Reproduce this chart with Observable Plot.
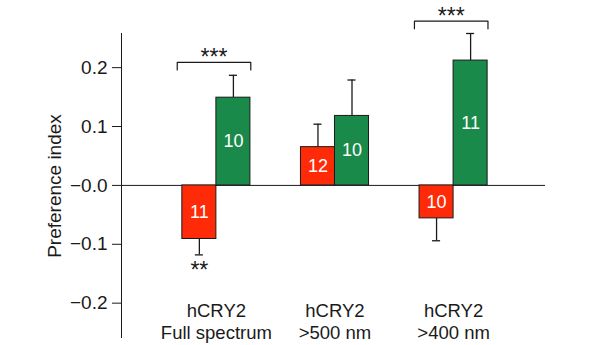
<!DOCTYPE html>
<html><head><meta charset="utf-8">
<script src="https://cdn.jsdelivr.net/npm/d3@7"></script>
<script src="https://cdn.jsdelivr.net/npm/@observablehq/plot@0.6"></script>
<style>body{margin:0;background:#fff}</style>
</head><body><div id="chart"></div>
<script>
// ---- data ----
const groups = ["hCRY2\nFull spectrum", "hCRY2\n>500 nm", "hCRY2\n>400 nm"];
const redValues = [-0.091, 0.065, -0.056];
const redErrors = [0.027, 0.039, 0.038];
const redN = [11, 12, 10];
const greenValues = [0.149, 0.118, 0.212];
const greenErrors = [0.038, 0.061, 0.046];
const greenN = [10, 10, 11];
const bracketGroups = [0, 2];
const bracketLevels = [0.209, 0.279];
const bracketLabels = ["***", "***"];
const lowStarGroups = [0];
const lowStarLabels = ["**"];
const yTicks = [-0.2, -0.1, 0, 0.1, 0.2];
const yTickLabels = ["\u22120.2", "\u22120.1", "\u22120.0", "0.1", "0.2"];

// ---- layout constants ----
const BAR_W = 0.287, CAP = 0.034, BR_L = 0.33, BR_R = 0.29, BR_TICK = 0.013;
const RED = "#ff2a08", GREEN = "#1a8a4b", INK = "#1a1a1a";
const FS = 18.5;

const bars = [];
groups.forEach((g, i) => {
  bars.push({i, x1: i - BAR_W, x2: i, y: redValues[i], err: redErrors[i], n: redN[i], fill: RED});
  bars.push({i, x1: i, x2: i + BAR_W, y: greenValues[i], err: greenErrors[i], n: greenN[i], fill: GREEN});
});
bars.forEach(b => { b.xc = (b.x1 + b.x2) / 2; b.yEnd = b.y + Math.sign(b.y) * b.err; });

const bracketPts = [];
bracketGroups.forEach((g, k) => {
  const l = bracketLevels[k];
  [[g - BR_L, l - BR_TICK], [g - BR_L, l], [g + BR_R, l], [g + BR_R, l - BR_TICK]]
    .forEach(([x, y]) => bracketPts.push({k, x, y}));
});
const bracketText = bracketGroups.map((g, k) => ({x: g - 0.02, y: bracketLevels[k] + 0.008, t: bracketLabels[k]}));
const lowStars = lowStarGroups.map((g, k) => {
  const b = bars.find(d => d.i === g && d.fill === RED);
  return {x: b.xc, y: b.yEnd - 0.027, t: lowStarLabels[k]};
});
const tickLabel = new Map(yTicks.map((t, i) => [t, yTickLabels[i]]));

const chart = Plot.plot({
  width: 600, height: 345,
  marginLeft: 121, marginRight: 55, marginTop: 33, marginBottom: 7,
  style: {fontFamily: "Liberation Sans, Arial, Helvetica, sans-serif", fontSize: FS + "px", color: INK, background: "#fff"},
  x: {domain: [-0.8, 2.775], axis: null},
  y: {domain: [-0.26, 0.258], axis: null},
  marks: [
    Plot.axisY({ticks: yTicks, tickFormat: d => tickLabel.get(d), tickSize: 9, tickPadding: 5, fontSize: 19,
      label: "Preference index", labelArrow: "none", labelAnchor: "center", labelOffset: 74, stroke: INK, fill: INK}),
    Plot.ruleX([-0.8], {stroke: INK}),
    Plot.ruleY([0], {stroke: INK}),
    Plot.ruleX(bars, {x: "xc", y1: "y", y2: "yEnd", stroke: INK, strokeWidth: 1.3}),
    Plot.ruleY(bars, {y: "yEnd", x1: d => d.xc - CAP, x2: d => d.xc + CAP, stroke: INK, strokeWidth: 1.3}),
    Plot.rectY(bars, {x1: "x1", x2: "x2", y1: 0, y2: "y", fill: "fill", stroke: INK, strokeWidth: 1}),
    Plot.text(bars, {x: "xc", y: d => d.y / 2, text: "n", fill: "white", fontSize: 18}),
    Plot.line(bracketPts, {x: "x", y: "y", z: "k", stroke: INK, strokeWidth: 1.2}),
    Plot.text(bracketText, {x: "x", y: "y", text: "t", fontSize: 23, fill: INK}),
    Plot.text(lowStars, {x: "x", y: "y", text: "t", fontSize: 23, fill: INK}),
    Plot.text(groups, {x: (d, i) => i, text: d => d, frameAnchor: "bottom", lineAnchor: "bottom", lineHeight: 1.15, fontSize: FS, fill: INK})
  ]
});
document.getElementById("chart").append(chart);
</script>
</body></html>
